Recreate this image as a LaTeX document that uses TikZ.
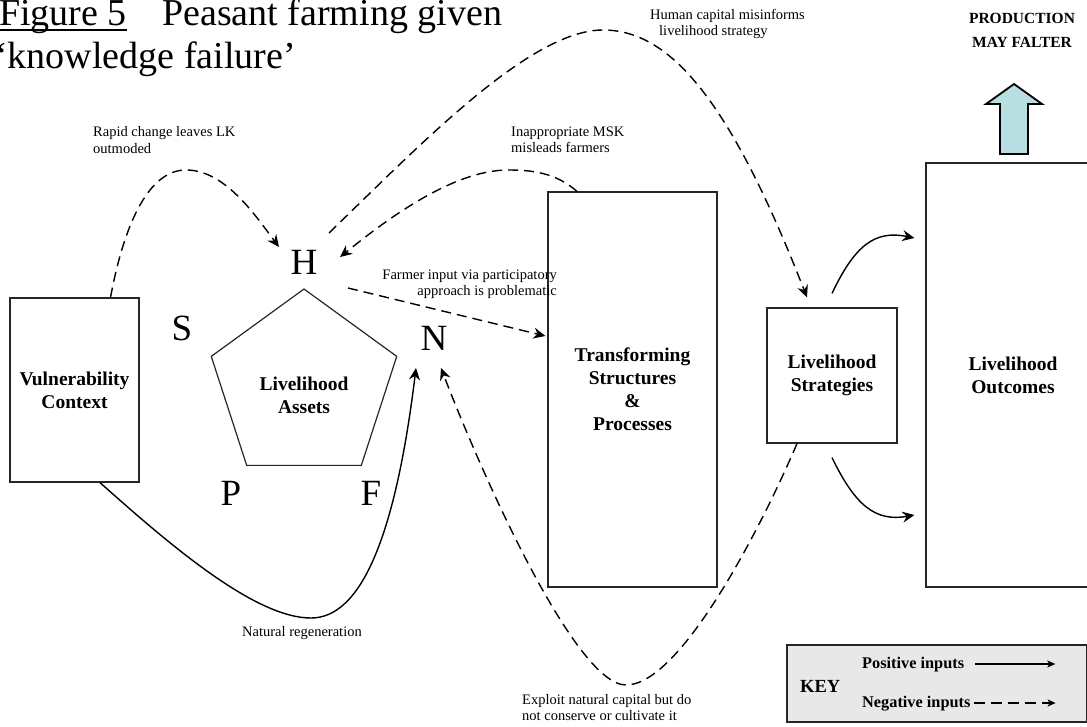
\documentclass[tikz,border=0pt]{standalone}
\usepackage{fontspec}
\setmainfont{Liberation Serif}
\usetikzlibrary{arrows.meta,shapes.geometric}

\definecolor{prodblue}{RGB}{184,222,226}
\definecolor{keygray}{RGB}{232,232,232}

\begin{document}
\begin{tikzpicture}[x=1pt,y=-1pt,
  box/.style={draw=black!85, line width=1.2pt, inner sep=0pt, align=center,
    font=\fontsize{19.5}{23}\selectfont\bfseries},
  boxtext/.style={inner sep=0pt, align=center, font=\fontsize{19.5}{23}\selectfont\bfseries},
  letter/.style={inner sep=0pt, font=\fontsize{37}{40}\selectfont},
  titletext/.style={inner sep=0pt, font=\fontsize{38}{44}\selectfont},
  note/.style={inner sep=0pt, font=\fontsize{14.5}{16.5}\selectfont},
  keytext/.style={inner sep=0pt, font=\fontsize{16.3}{18}\selectfont\bfseries},
  posarrow/.style={line width=1.4pt, -{Stealth[length=12pt,width=11pt,inset=4pt]}},
  negarrow/.style={posarrow, dash pattern=on 10pt off 6pt},
]
\useasboundingbox (0,0) rectangle (1087,726);
\clip (0,0) rectangle (1087,726);

% title
\node[titletext, anchor=base west] (fig) at (-1,25) {Figure 5};
\draw[line width=1.8pt] ([yshift=-5pt]fig.base west) -- ([yshift=-5pt]fig.base east);
\node[titletext, anchor=base west] (title1) at (162,25) {Peasant farming given};
\node[titletext, anchor=base west] (title2) at (-5,68) {‘knowledge failure’};

% framework boxes
\node[box, minimum width=129pt, minimum height=184pt] (vul) at (74.5,390) {Vulnerability\\Context};
\node[box, minimum width=169pt, minimum height=395pt] (tsp) at (632.5,389.5) {Transforming\\Structures\\\&\\Processes};
\node[box, minimum width=130pt, minimum height=135pt] (lst) at (832,375.5) {Livelihood\\Strategies};
\node[box, minimum width=174pt, minimum height=424pt] (lout) at (1013,375) {Livelihood\\Outcomes};

% asset pentagon
\node[draw=black!85, line width=1.2pt, regular polygon, regular polygon sides=5,
  minimum size=195pt, inner sep=0pt] (assets) at (304,386.5) {};
\node[boxtext] (assetstext) at (304,395) {Livelihood\\Assets};
\node[letter] (H) at (304,262) {H};
\node[letter] (S) at (182,328) {S};
\node[letter] (N) at (434,338) {N};
\node[letter] (P) at (231,493) {P};
\node[letter] (F) at (371,493) {F};

% production arrow
\draw[line width=1.8pt, fill=prodblue] (1000,154) -- (1000,104) -- (986,104) -- (1014,84)
  -- (1042,104) -- (1028,104) -- (1028,154) -- cycle;
\node[inner sep=0pt, align=center, font=\fontsize{15.5}{24}\selectfont\bfseries] (prod) at (1022,30) {PRODUCTION\\MAY FALTER};

% free ends next to the capital letters
\coordinate (Hrc) at (279,247);
\coordinate (Hmsk) at (340,257);
\coordinate (Hhc) at (329,233);
\coordinate (Hfi) at (348,288);
\coordinate (Nsol) at (416,368);
\coordinate (Ndash) at (441,368);

% connectors
\draw[negarrow] ([xshift=36pt]vul.north) .. controls (125,220) and (150,170) .. (186,170)
  .. controls (225,170) and (255,215) .. (Hrc);
\draw[negarrow] ([xshift=-55.5pt]tsp.north) .. controls (555,172) and (530,170) .. (508,170)
  .. controls (450,170) and (380,225) .. (Hmsk);
\draw[negarrow] (Hhc) .. controls (420,145) and (530,30) .. (603,30)
  .. controls (670,30) and (730,100) .. ([xshift=-25pt,yshift=10pt]lst.north);
\draw[negarrow] (Hfi) -- ([xshift=-2pt,yshift=53.5pt]tsp.west);
\draw[posarrow] ([xshift=25.5pt]vul.south) .. controls (170,545) and (255,618) .. (311,618)
  .. controls (360,618) and (395,540) .. (Nsol);
\draw[negarrow] ([xshift=-35pt]lst.south) .. controls (760,530) and (680,685) .. (626,685)
  .. controls (575,685) and (480,470) .. (Ndash);
\draw[posarrow] ([yshift=14pt]lst.north) .. controls (855,245) and (875,230) .. ([xshift=-11pt,yshift=137pt]lout.west);
\draw[posarrow] ([yshift=-14pt]lst.south) .. controls (855,505) and (875,522) .. ([xshift=-11pt,yshift=-140pt]lout.west);

% connector notes
\node[note, anchor=west, align=left] (rapid) at (93,140) {Rapid change leaves LK\\outmoded};
\node[note, anchor=west, align=left] (msk) at (511,140) {Inappropriate MSK\\misleads farmers};
\node[note, anchor=west, align=left] (human) at (650,24) {Human capital misinforms\\\hspace*{9pt}livelihood strategy};
\node[note, anchor=east, align=right] (farmer) at (557,284) {Farmer input via participatory\\approach is problematic};
\node[note] (regen) at (302,633) {Natural regeneration};
\node[note, anchor=west, align=left] (exploit) at (522,707.5) {Exploit natural capital but do\\not conserve or cultivate it};

% key
\node[draw=black!85, fill=keygray, line width=1.2pt, minimum width=300pt, minimum height=77pt,
  inner sep=0pt] (keybox) at (937,683.5) {};
\node[inner sep=0pt, anchor=west, font=\fontsize{18.5}{20}\selectfont\bfseries] (keyword) at (800,686) {KEY};
\node[keytext, anchor=west] (posl) at (862,665) {Positive inputs};
\node[keytext, anchor=west] (negl) at (862,704) {Negative inputs};
\draw[line width=1.2pt, -{Stealth[length=8pt,width=7pt,inset=2pt]}]
  ([xshift=11pt,yshift=1pt]posl.east) -- ([xshift=91pt,yshift=1pt]posl.east);
\draw[line width=1.2pt, dash pattern=on 11pt off 6pt, -{Stealth[length=8pt,width=7pt,inset=2pt]}]
  ([xshift=3pt,yshift=1pt]negl.east) -- ([xshift=85pt,yshift=1pt]negl.east);
\end{tikzpicture}
\end{document}
